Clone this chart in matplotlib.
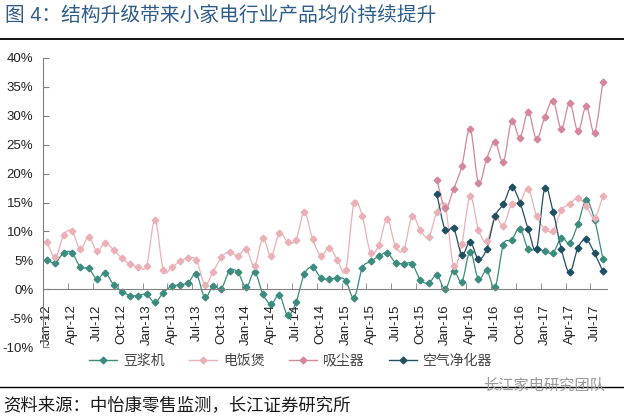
import numpy as np
import matplotlib
matplotlib.use("Agg")
import matplotlib.pyplot as plt
from matplotlib.path import Path
from matplotlib.patches import PathPatch
from matplotlib.lines import Line2D

plt.rcParams['font.family'] = ['Liberation Sans', 'Noto Sans CJK SC', 'DejaVu Sans']

# monthly data, Jan-12 .. Aug-17 (year-over-year change of average price, %)
soymilk = [5.0, 4.6, 6.3, 6.3, 3.8, 3.6, 1.8, 2.8, 0.8, -0.4, -1.1, -1.1,
           -0.9, -2.3, -0.6, 0.5, 0.8, 1.1, 2.6, -1.4, 0.5, 0.1, 3.2, 2.9,
           0.3, 3.0, -0.8, -2.6, -1.0, -4.5, -2.3, 2.6, 3.8, 2.0, 1.7, 2.0,
           1.5, -1.5, 3.7, 4.8, 5.7, 6.3, 4.6, 4.4, 4.4, 1.6, 1.1, 2.4,
           0.0, 3.2, 1.3, 6.5, 1.7, 3.3, 0.3, 7.7, 8.5, 10.5, 6.9, 7.0,
           6.6, 6.3, 8.9, 8.0, 11.3, 15.4, 12.0, 5.3]
rice_cooker = [8.1, 5.5, 9.4, 10.0, 6.9, 9.1, 6.6, 8.0, 6.8, 5.4, 4.3, 3.9,
               4.1, 12.0, 3.3, 3.8, 4.8, 5.4, 5.0, 0.8, 3.0, 5.5, 6.5, 5.7,
               7.0, 4.0, 8.8, 5.7, 9.7, 8.2, 8.5, 13.3, 8.7, 5.8, 7.2, 5.1,
               3.3, 14.9, 12.6, 6.3, 7.7, 12.2, 7.4, 6.9, 12.6, 10.2, 9.0, 13.4,
               14.4, 4.0, 7.9, 16.1, 10.3, 8.3, 12.5, 11.0, 14.7, 15.0, 17.4, 12.7,
               10.5, 10.1, 13.7, 14.7, 15.8, 14.4, 12.3, 16.1]
# the two newer series start at Dec-15 (index 47)
vacuum = [18.9, 14.0, 17.3, 21.3, 27.8, 18.4, 22.6, 25.5, 22.0, 29.1, 26.2,
          30.7, 26.0, 29.8, 32.6, 27.7, 32.3, 27.3, 31.7, 27.1, 35.9]
air_purifier = [16.4, 10.2, 10.6, 6.0, 8.2, 5.2, 7.0, 12.6, 14.7, 17.7, 15.0,
                10.4, 7.0, 17.5, 13.4, 6.9, 2.9, 7.2, 8.6, 6.2, 3.1]
start_new = 47

series_names = ['豆浆机', '电饭煲', '吸尘器', '空气净化器']
series_colors = ['#3B8C7E', '#EBB0B6', '#D4879A', '#1F4F63']

tick_labels = ['Jan-12', 'Apr-12', 'Jul-12', 'Oct-12', 'Jan-13', 'Apr-13', 'Jul-13', 'Oct-13',
               'Jan-14', 'Apr-14', 'Jul-14', 'Oct-14', 'Jan-15', 'Apr-15', 'Jul-15', 'Oct-15',
               'Jan-16', 'Apr-16', 'Jul-16', 'Oct-16', 'Jan-17', 'Apr-17', 'Jul-17']


def smooth_path(x, y):
    """Smooth line through the points (like Excel's smoothed line)."""
    pts = np.column_stack([x, y]).astype(float)
    n = len(pts)
    verts = [pts[0]]
    codes = [Path.MOVETO]
    for i in range(n - 1):
        p0 = pts[i - 1] if i > 0 else pts[i]
        p1 = pts[i]
        p2 = pts[i + 1]
        p3 = pts[i + 2] if i + 2 < n else pts[i + 1]
        verts += [p1 + (p2 - p0) / 6, p2 - (p3 - p1) / 6, p2]
        codes += [Path.CURVE4] * 3
    return Path(verts, codes)


fig = plt.figure(figsize=(6.24, 4.17), dpi=100)
ax = fig.add_axes([43 / 624, 1 - 347 / 417, 564 / 624, 289 / 417])

n = len(rice_cooker)
x_all = np.arange(n)
x_new = np.arange(start_new, n)
data = [(x_all, soymilk), (x_all, rice_cooker), (x_new, vacuum), (x_new, air_purifier)]

for (xs, ys), c in zip(data, series_colors):
    ax.add_patch(PathPatch(smooth_path(xs, ys), facecolor='none', edgecolor=c, lw=0.9))
    ax.plot(xs, ys, ls='none', marker='D', ms=3.4, color=c, mec=c)

ax.set_xlim(-0.5, n - 0.5)
ax.set_ylim(-10, 40)

for s in ['top', 'right']:
    ax.spines[s].set_visible(False)
ax.spines['bottom'].set_position(('data', 0))
for s in ['left', 'bottom']:
    ax.spines[s].set_color('#808080')
    ax.spines[s].set_linewidth(0.8)

yt = np.arange(-10, 41, 5)
ax.set_yticks(yt)
ax.set_yticklabels([f'{v}%' for v in yt], fontsize=9.5, color='#222222')
ax.tick_params(axis='y', direction='in', length=4, color='#808080', pad=7)

ax.set_xticks(np.arange(0, n, 3))
ax.set_xticklabels(tick_labels, rotation=90, fontsize=9.5, color='#222222')
ax.set_xticks(np.arange(-0.5, n, 3), minor=True)
ax.tick_params(axis='x', which='major', length=0, pad=11)
ax.tick_params(axis='x', which='minor', direction='in', length=4, color='#808080')

handles = [Line2D([], [], color=c, lw=1, marker='D', ms=3.4) for c in series_colors]
leg = fig.legend(handles, series_names, loc='center', bbox_to_anchor=(0.466, 0.135),
                 ncol=4, frameon=False, fontsize=10, handlelength=2.0,
                 handletextpad=0.4, columnspacing=1.8)
for t in leg.get_texts():
    t.set_color('#444444')

# title, rules and source note
fig.text(0.008, 0.962, '图 4：结构升级带来小家电行业产品均价持续提升', fontsize=14.2,
         color='#2E5C8A', va='center', ha='left')
fig.add_artist(Line2D([0, 1], [0.907, 0.907], color='black', lw=1.3))
fig.add_artist(Line2D([0, 1], [0.072, 0.072], color='black', lw=1.0))
fig.text(0.97, 0.074, '长江家电研究团队', fontsize=11, color='#9a9a9a', va='center', ha='right')
fig.text(0.005, 0.028, '资料来源：中怡康零售监测，长江证券研究所', fontsize=12.5,
         color='#1a1a1a', va='center', ha='left')

fig.savefig('out.png', dpi=100)
